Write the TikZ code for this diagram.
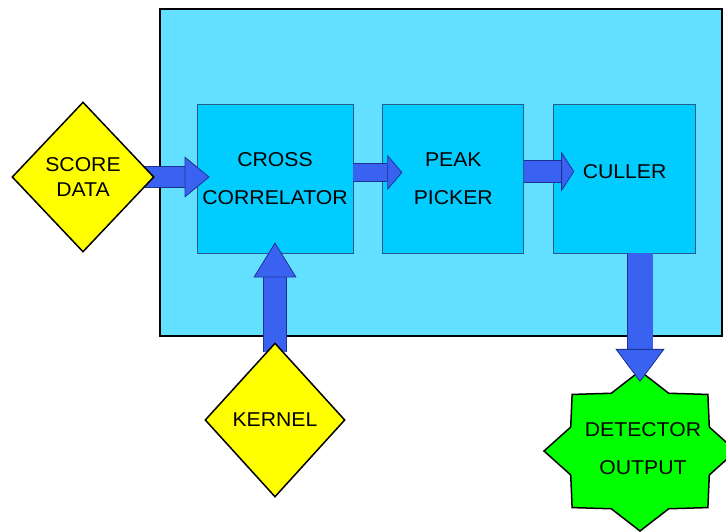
\documentclass[tikz,border=0pt]{standalone}
\usepackage{fontspec}
\setmainfont{Liberation Sans}[FakeStretch=1.06]
\usetikzlibrary{positioning, arrows.meta, shapes.geometric}
\pgfdeclarelayer{front}
\pgfsetlayers{main,front}
\definecolor{outercyan}{RGB}{99,224,255}
\definecolor{blockcyan}{RGB}{0,204,255}
\definecolor{blockedge}{RGB}{40,90,140}
\definecolor{arrblue}{RGB}{58,98,240}
\definecolor{arredge}{RGB}{30,50,150}
\definecolor{inyellow}{RGB}{255,255,0}
\definecolor{outgreen}{RGB}{0,255,0}

\begin{document}
\begin{tikzpicture}[x=1pt, y=-1pt, node distance=29pt,
      block/.style={draw=blockedge, fill=blockcyan, line width=0.8pt,
                    minimum height=149pt, align=center,
                    font=\fontsize{20}{38}\selectfont},
      input/.style={diamond, draw=black, fill=inyellow, line width=1.5pt,
                    inner sep=0pt, aspect=1, align=center,
                    font=\fontsize{20}{25}\selectfont},
      fatarr/.style n args={3}{draw=arrblue, line width=#1,
                    -{Triangle[length=#3, width=#2, color=arredge, fill=arrblue, line width=0.8pt]},
                    preaction={draw=arredge, line width=#1+1.6pt, arrows=-, shorten >=#3}}]
    \useasboundingbox (0,0) rectangle (726,531);
    % inputs sit above the arrows
    \begin{pgfonlayer}{front}
      \node[input, minimum width=142pt, minimum height=150pt] (score)  at (83,177)  {SCORE\\DATA};
      \node[input, minimum width=140pt, minimum height=154pt] (kernel) at (275,420) {KERNEL};
    \end{pgfonlayer}
    \node[draw=black, fill=outercyan, line width=2pt,
          minimum width=562pt, minimum height=327pt] (system) at (441,172.5) {};
    \node[block, minimum width=156pt]                   (xcorr)  at (275,178.5) {CROSS\\CORRELATOR};
    \node[block, minimum width=141pt, right=of xcorr]   (picker) {PEAK\\PICKER};
    \node[block, minimum width=142pt, right=of picker, text depth=13pt]
                                                        (culler) {CULLER};
    % output star
    \begin{scope}[shift={(640,451)}, xscale=1.2]
      \node[star, star points=8, star point ratio=1.28, minimum size=160pt, inner sep=0pt,
            draw=black, fill=outgreen, line width=1.5pt, transform shape] (detector) at (0,0) {};
    \end{scope}
    \node[align=center, font=\fontsize{20}{38}\selectfont] (detlabel) at (643,449) {DETECTOR\\OUTPUT};
    \draw[fatarr={20pt}{41pt}{25pt}] ([xshift=-10pt]score.east) -- ([xshift=13pt]score.east -| xcorr.west);
    \draw[fatarr={17pt}{35pt}{15pt}] ([yshift=6pt]xcorr.east) -- ([xshift=20pt,yshift=6pt]picker.west);
    \draw[fatarr={21pt}{40pt}{13pt}] ([yshift=7pt]picker.east) -- ([xshift=21pt,yshift=7pt]culler.west);
    \draw[fatarr={25pt}{49pt}{33pt}] (detector.north |- culler.south) -- ([yshift=-12pt]detector.north);
    \draw[fatarr={22pt}{43pt}{35pt}] ([yshift=-10pt]kernel.north) -- ([yshift=11pt]xcorr.south);
  \end{tikzpicture}
\end{document}
